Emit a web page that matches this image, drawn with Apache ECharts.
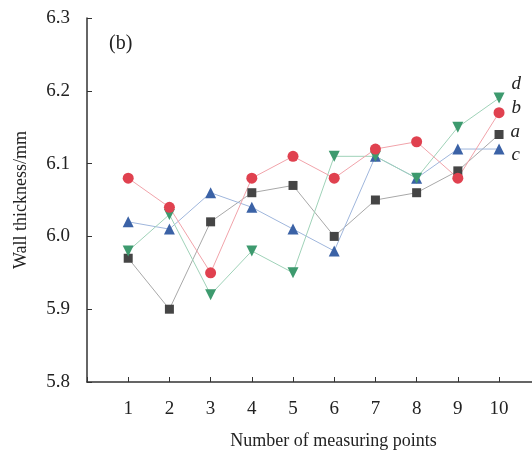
<!DOCTYPE html>
<html>
<head>
<meta charset="utf-8">
<script src="https://cdn.jsdelivr.net/npm/echarts@6/dist/echarts.min.js"></script>
<style>
html, body {margin: 0; padding: 0; background: #fff;}
#chart {width: 532px; height: 454px;}
</style>
</head>
<body>
<div id="chart"></div>
<script>
var points = [1, 2, 3, 4, 5, 6, 7, 8, 9, 10];
var seriesA = [5.97, 5.90, 6.02, 6.06, 6.07, 6.00, 6.05, 6.06, 6.09, 6.14];
var seriesB = [6.08, 6.04, 5.95, 6.08, 6.11, 6.08, 6.12, 6.13, 6.08, 6.17];
var seriesC = [6.02, 6.01, 6.06, 6.04, 6.01, 5.98, 6.11, 6.08, 6.12, 6.12];
var seriesD = [5.98, 6.03, 5.92, 5.98, 5.95, 6.11, 6.11, 6.08, 6.15, 6.19];

var font = "'Liberation Serif', 'DejaVu Serif', serif";

// pair x with y, tag last point with series letter
function build(vals, name, dy) {
    return vals.map(function (v, i) {
        var item = {value: [points[i], v]};
        if (i == vals.length - 1) {
            item.label = {show: true, position: 'right', offset: [2, dy], formatter: name,
                fontFamily: font, fontStyle: 'italic', fontSize: 19, color: '#222'};
        }
        return item;
    });
}

function line(name, vals, symbol, color, lineColor, dy, rotate) {
    return {
        name: name, type: 'line', data: build(vals, name, dy),
        symbol: symbol, symbolSize: symbol == 'rect' ? 9 : 11, symbolRotate: rotate || 0,
        itemStyle: {color: color},
        lineStyle: {color: lineColor, width: 1},
        z: 3
    };
}

var chart = echarts.init(document.getElementById('chart'));
chart.setOption({
    animation: false,
    grid: {left: 87, right: 0, top: 18, bottom: 72, outerBoundsMode: 'none'},
    xAxis: {
        type: 'value', min: 0, max: 10.8, interval: 1,
        name: 'Number of measuring points', nameLocation: 'middle', nameGap: 50,
        nameTextStyle: {fontFamily: font, fontSize: 18, color: '#222', padding: [0, 0, 0, 48]},
        axisLine: {lineStyle: {color: '#333', width: 1.5}},
        axisTick: {inside: true, length: 5, lineStyle: {color: '#333'}},
        axisLabel: {fontFamily: font, fontSize: 19, color: '#222', margin: 18,
            formatter: function (v) { return (v >= 1 && v <= 10) ? String(v) : ''; }},
        splitLine: {show: false}
    },
    yAxis: {
        type: 'value', min: 5.8, max: 6.3, interval: 0.1,
        name: 'Wall thickness/mm', nameLocation: 'middle', nameGap: 57,
        nameTextStyle: {fontFamily: font, fontSize: 18, color: '#222'},
        axisLine: {show: true, lineStyle: {color: '#333', width: 1.5}},
        axisTick: {show: true, inside: true, length: 5, lineStyle: {color: '#333'}},
        axisLabel: {fontFamily: font, fontSize: 19, color: '#222', margin: 17,
            formatter: function (v) { return v.toFixed(1); }},
        splitLine: {show: false}
    },
    graphic: [{type: 'text', left: 109, top: 34,
        style: {text: '(b)', font: "20px 'Liberation Serif'", fill: '#222'}}],
    series: [
        line('a', seriesA, 'rect', '#454545', '#a8a8a8', -2),
        line('c', seriesC, 'triangle', '#3b62a6', '#9fb6dc', 6),
        line('d', seriesD, 'triangle', '#3d9a6e', '#9fd2b8', -14, 180),
        line('b', seriesB, 'circle', '#e0414f', '#f1a3aa', -5)
    ]
});
</script>
</body>
</html>
